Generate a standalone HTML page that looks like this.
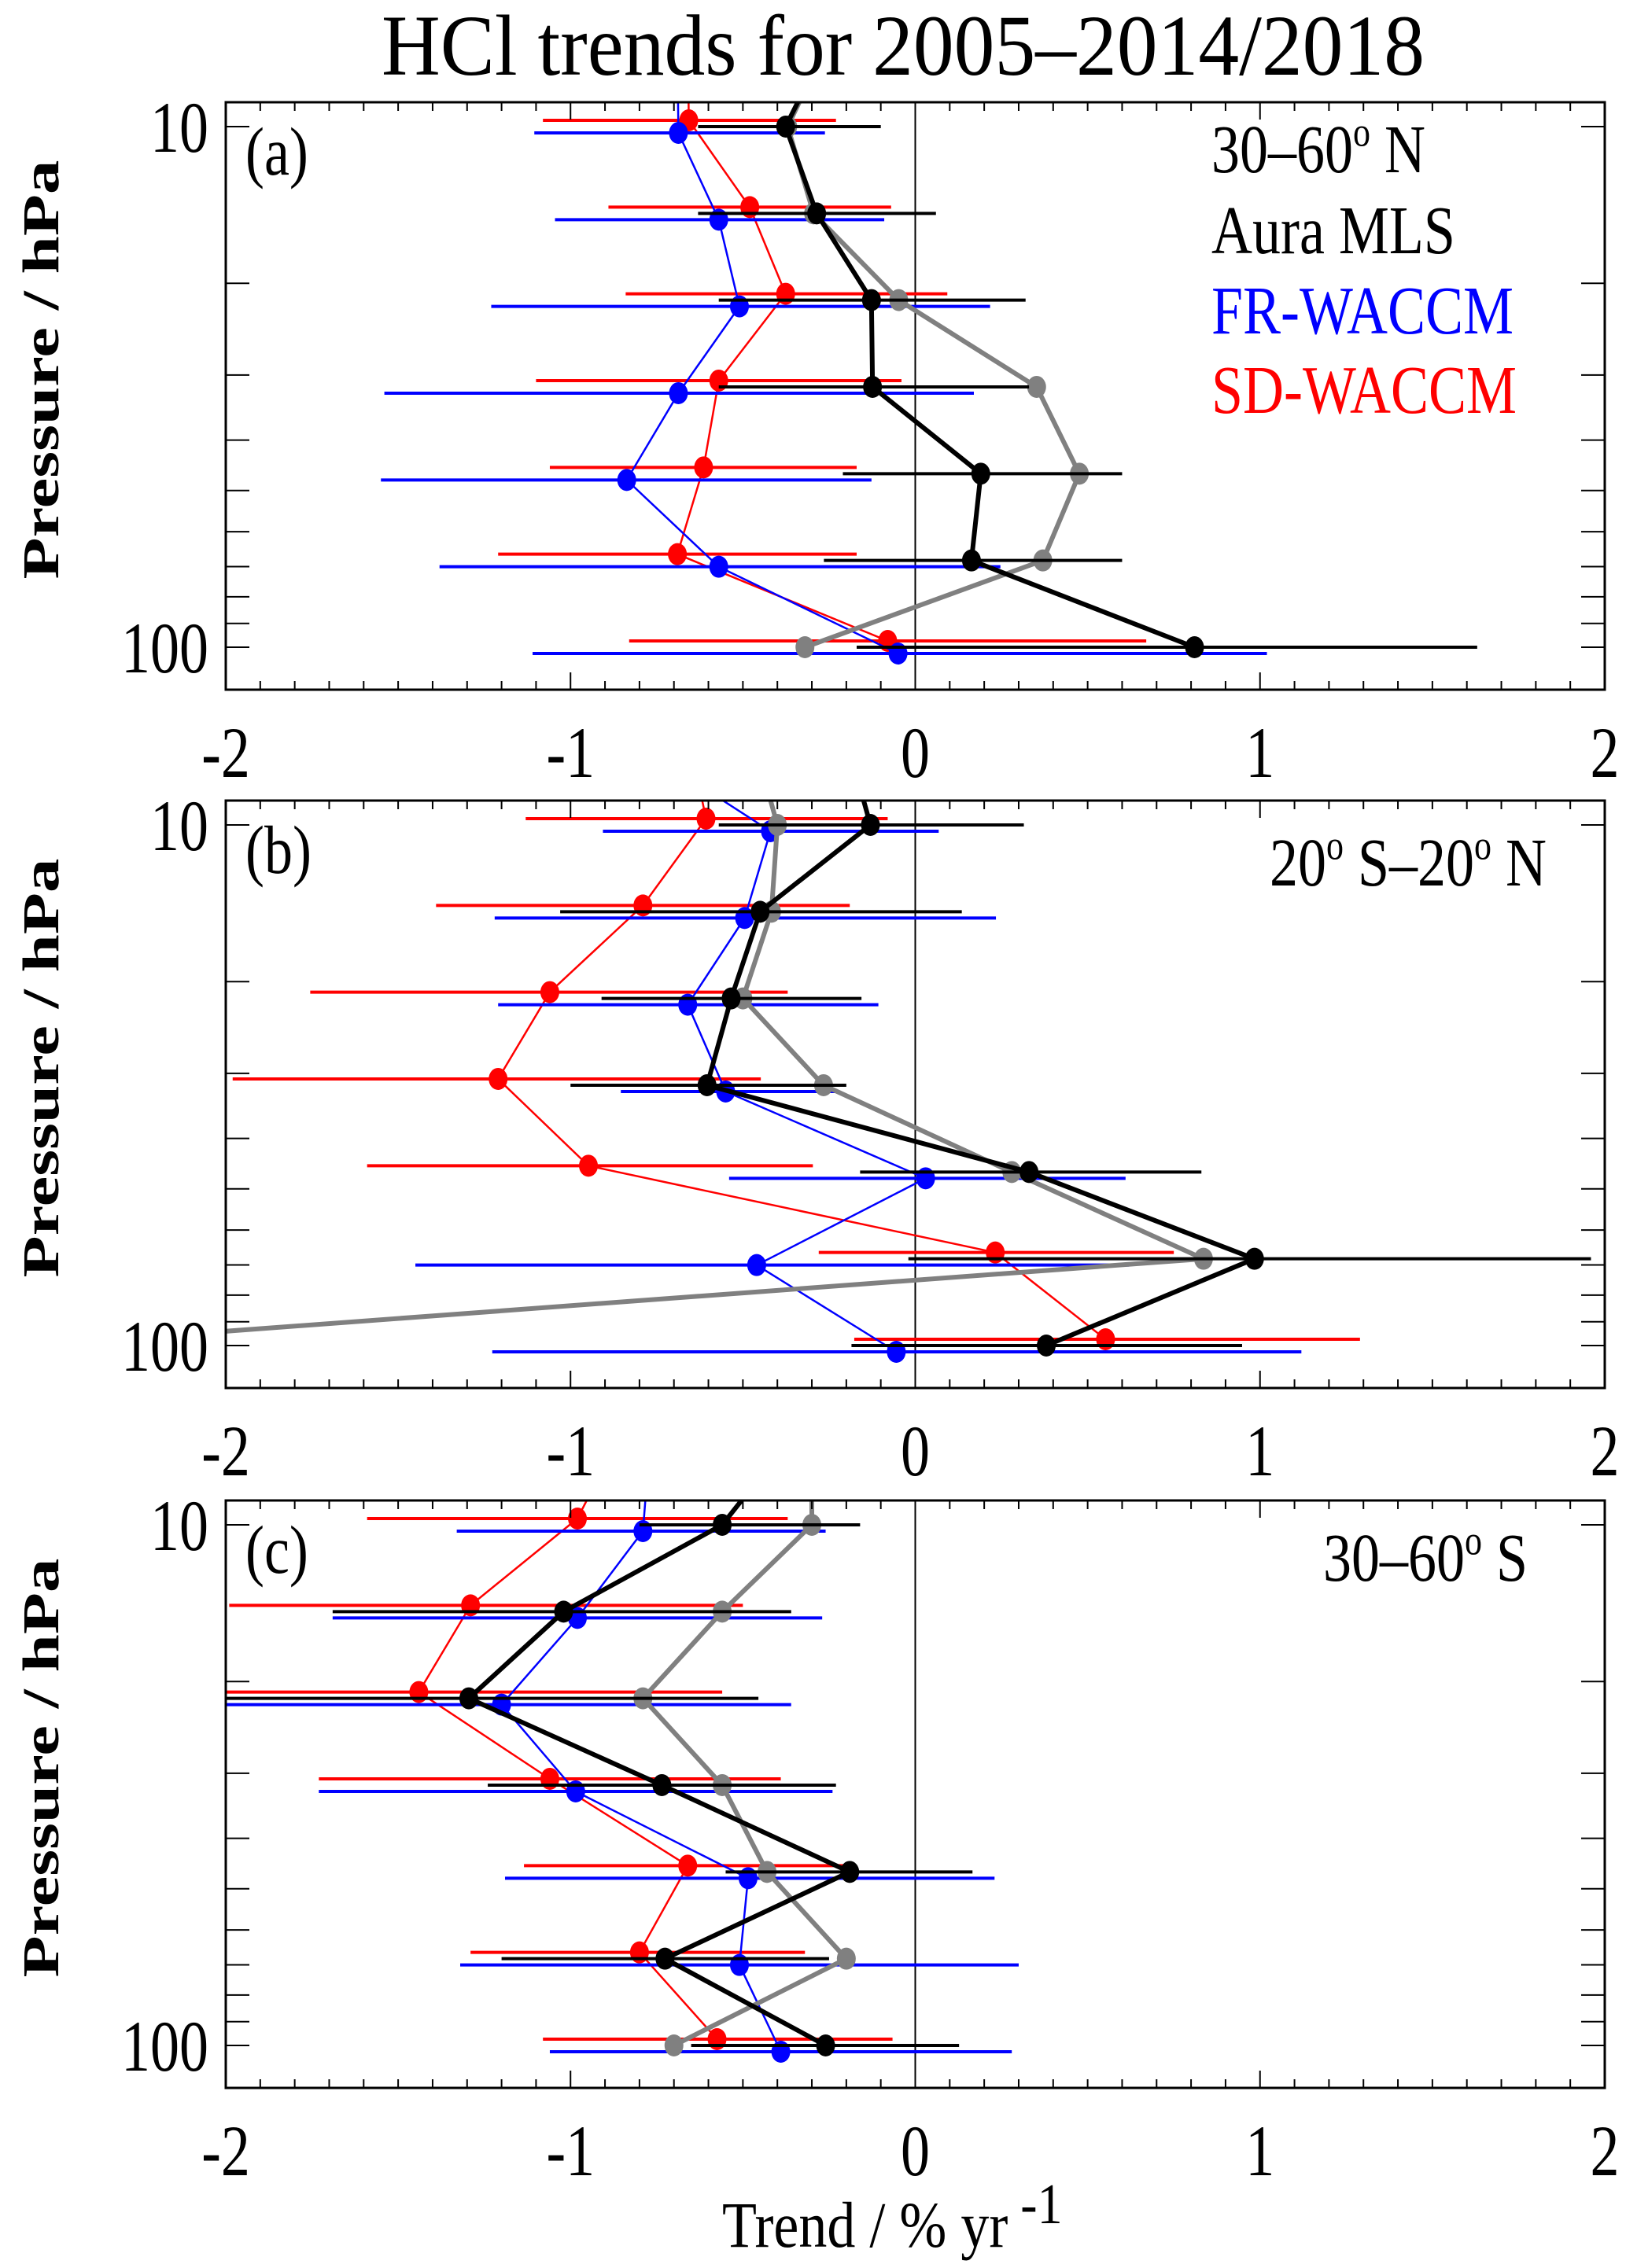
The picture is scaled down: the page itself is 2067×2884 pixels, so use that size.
<!DOCTYPE html>
<html><head><meta charset="utf-8">
<style>
html,body{margin:0;padding:0;background:#fff;}
svg{display:block;font-family:"Liberation Serif",serif;}
</style></head>
<body>
<svg id="chart" width="2067" height="2884" viewBox="0 0 2067 2884" xmlns="http://www.w3.org/2000/svg">
<text x="0" y="0" font-size="92" text-anchor="middle" textLength="1326" lengthAdjust="spacingAndGlyphs" transform="translate(1148,95) scale(1,1.2)">HCl trends for 2005–2014/2018</text>
<text x="0" y="0" font-size="72" transform="translate(918,2857) scale(1,1.15)">Trend / % yr<tspan dy="-26" font-size="64"> -1</tspan></text>
</svg>
<script>
// pressure levels (first level only continues the lines beyond the top border)
const levels = [6.81, 10, 14.68, 21.54, 31.62, 46.42, 68.13, 100];
const xTicks = [-2, -1, 0, 1, 2];
const yLabelVals = [10, 100];

// Panel (a) 30–60° N
const aMls   = [-0.25, -0.376, -0.286, -0.127, -0.124, 0.19, 0.163, 0.81];
const aMlsLo = [null, -0.63, -0.63, -0.57, -0.57, -0.21, -0.265, -0.17];
const aMlsHi = [null, -0.10, 0.06, 0.32, 0.33, 0.6, 0.6, 1.63];
const aGray  = [-0.25, -0.37, -0.295, -0.048, 0.352, 0.476, 0.37, -0.32];
const aFr    = [-0.69, -0.687, -0.57, -0.51, -0.687, -0.837, -0.57, -0.05];
const aFrLo  = [null, -1.105, -1.045, -1.23, -1.54, -1.55, -1.38, -1.11];
const aFrHi  = [null, -0.262, -0.09, 0.217, 0.17, -0.127, 0.247, 1.02];
const aSd    = [-0.66, -0.657, -0.48, -0.376, -0.57, -0.614, -0.69, -0.08];
const aSdLo  = [null, -1.08, -0.89, -0.84, -1.10, -1.06, -1.21, -0.83];
const aSdHi  = [null, -0.23, -0.07, 0.093, -0.04, -0.17, -0.17, 0.67];

// Panel (b) 20° S–20° N
const bMls   = [-0.2, -0.13, -0.45, -0.534, -0.604, 0.33, 0.984, 0.38];
const bMlsLo = [null, -0.57, -1.03, -0.91, -1.0, -0.16, -0.02, -0.185];
const bMlsHi = [null, 0.315, 0.135, -0.156, -0.2, 0.83, 1.96, 0.948];
const bGray  = [-0.47, -0.40, -0.417, -0.5, -0.266, 0.28, 0.836, -2.56];
const bFr    = [-0.81, -0.42, -0.495, -0.66, -0.55, 0.03, -0.46, -0.055];
const bFrLo  = [null, -0.906, -1.22, -1.21, -0.854, -0.54, -1.45, -1.227];
const bFrHi  = [null, 0.068, 0.234, -0.107, -0.22, 0.61, 0.62, 1.12];
const bSd    = [-0.66, -0.607, -0.79, -1.06, -1.21, -0.948, 0.232, 0.552];
const bSdLo  = [null, -1.13, -1.39, -1.755, -1.98, -1.59, -0.28, -0.177];
const bSdHi  = [null, -0.08, -0.19, -0.37, -0.448, -0.297, 0.75, 1.29];

// Panel (c) 30–60° S
const cMls   = [-0.36, -0.56, -1.02, -1.295, -0.735, -0.19, -0.726, -0.26];
const cMlsLo = [null, -0.8, -1.69, -2.0, -1.24, -0.55, -1.2, -0.65];
const cMlsHi = [null, -0.16, -0.36, -0.455, -0.23, 0.166, -0.25, 0.127];
const cGray  = [-0.3, -0.3, -0.56, -0.79, -0.56, -0.43, -0.2, -0.70];
const cFr    = [-0.77, -0.79, -0.98, -1.2, -0.985, -0.485, -0.51, -0.39];
const cFrLo  = [null, -1.33, -1.69, -2.0, -1.73, -1.19, -1.32, -1.06];
const cFrHi  = [null, -0.26, -0.27, -0.36, -0.24, 0.23, 0.3, 0.28];
const cSd    = [-0.85, -0.98, -1.29, -1.44, -1.06, -0.66, -0.80, -0.575];
const cSdLo  = [null, -1.59, -1.99, -2.1, -1.73, -1.135, -1.29, -1.08];
const cSdHi  = [null, -0.37, -0.5, -0.56, -0.39, -0.18, -0.32, -0.066];

const NS = "http://www.w3.org/2000/svg";
const svg = document.getElementById('chart');
const L = 287, R = 2040;
function xs(v){ return L + (v + 2) / 4 * (R - L); }
function mk(tag, attrs, parent){
  const e = document.createElementNS(NS, tag);
  for (const k in attrs) e.setAttribute(k, attrs[k]);
  (parent || svg).appendChild(e);
  return e;
}

const panels = [
  {id:'a', top:130, label:'(a)', series:[
    {n:'sd', v:aSd, lo:aSdLo, hi:aSdHi, c:'#ff0000', w:2.5, off:-8},
    {n:'fr', v:aFr, lo:aFrLo, hi:aFrHi, c:'#0000ff', w:2.5, off:8},
    {n:'mls-alt', v:aGray, c:'#808080', w:6, off:0},
    {n:'mls', v:aMls, lo:aMlsLo, hi:aMlsHi, c:'#000000', w:6, off:0}]},
  {id:'b', top:1018, label:'(b)', series:[
    {n:'sd', v:bSd, lo:bSdLo, hi:bSdHi, c:'#ff0000', w:2.5, off:-8},
    {n:'fr', v:bFr, lo:bFrLo, hi:bFrHi, c:'#0000ff', w:2.5, off:8},
    {n:'mls-alt', v:bGray, c:'#808080', w:6, off:0},
    {n:'mls', v:bMls, lo:bMlsLo, hi:bMlsHi, c:'#000000', w:6, off:0}]},
  {id:'c', top:1908, label:'(c)', series:[
    {n:'sd', v:cSd, lo:cSdLo, hi:cSdHi, c:'#ff0000', w:2.5, off:-8},
    {n:'fr', v:cFr, lo:cFrLo, hi:cFrHi, c:'#0000ff', w:2.5, off:8},
    {n:'mls-alt', v:cGray, c:'#808080', w:6, off:0},
    {n:'mls', v:cMls, lo:cMlsLo, hi:cMlsHi, c:'#000000', w:6, off:0}]}
];

panels.forEach(p => {
  const T = p.top, B = T + 747;
  const ys = pr => T + 31 + (Math.log10(pr) - 1) * 662;
  const g = mk('g', {});
  
  
  const clipId = 'clip' + p.id;
  const cp = mk('clipPath', {id: clipId}, g);
  mk('rect', {x:L, y:T, width:R-L, height:B-T}, cp);
  const z = mk('line', {x1:xs(0), x2:xs(0), y1:T, y2:B, stroke:'#000', 'stroke-width':2}, g);
  
  
  const dg = mk('g', {'clip-path':'url(#' + clipId + ')'}, g);
  p.series.forEach(s => {
    const sg = mk('g', {}, dg);
    
    
    const pts = s.v.map((v, i) => xs(v).toFixed(1) + ',' + (ys(levels[i]) + s.off).toFixed(1)).join(' ');
    const pl = mk('polyline', {points:pts, fill:'none', stroke:s.c, 'stroke-width':s.w, 'stroke-linejoin':'round'}, sg);
    
    
    s.v.forEach((v, i) => {
      if (i === 0) return;
      const y = ys(levels[i]) + s.off;
      if (s.lo && s.lo[i] !== null) {
        const eb = mk('line', {x1:xs(s.lo[i]), x2:xs(s.hi[i]), y1:y, y2:y, stroke:s.c, 'stroke-width':4}, sg);
        
        
      }
      const m = mk('ellipse', {cx:xs(v), cy:y, rx:12, ry:14, fill:s.c}, sg);
      
      
    });
  });
  const fr = mk('rect', {x:L, y:T, width:R-L, height:B-T, fill:'none', stroke:'#000', 'stroke-width':3}, g);
  
  
  for (let k = -20; k <= 20; k++) {
    const v = k / 10, x = xs(v), len = (k % 10 === 0) ? 22 : 11;
    mk('line', {x1:x, x2:x, y1:B, y2:B-len, stroke:'#000', 'stroke-width':2}, g);
    mk('line', {x1:x, x2:x, y1:T, y2:T+len, stroke:'#000', 'stroke-width':2}, g);
  }
  xTicks.forEach(v => {
    const t = mk('text', {x:0, y:0, 'font-size':74, 'text-anchor':'middle', transform:'translate(' + xs(v) + ',' + (B + 111) + ') scale(1,1.25)'}, g);
    
    
    t.textContent = String(v);
  });
  [10,20,30,40,50,60,70,80,90,100].forEach(pr => {
    const y = ys(pr);
    mk('line', {x1:L, x2:L+30, y1:y, y2:y, stroke:'#000', 'stroke-width':2}, g);
    mk('line', {x1:R, x2:R-30, y1:y, y2:y, stroke:'#000', 'stroke-width':2}, g);
  });
  yLabelVals.forEach(pr => {
    const t = mk('text', {x:0, y:0, 'font-size':74, 'text-anchor':'end', transform:'translate(265,' + (ys(pr) + 32) + ') scale(1,1.25)'}, g);
    
    
    t.textContent = String(pr);
  });
  const yt = mk('text', {x:0, y:0, 'font-size':66, 'text-anchor':'middle', 'font-weight':'bold',
    transform:'translate(74,' + (T + 340) + ') rotate(-90)', textLength:533, lengthAdjust:'spacingAndGlyphs'}, g);
  
  
  yt.textContent = 'Pressure / hPa';
  const pl = mk('text', {x:0, y:0, 'font-size':72, transform:'translate(312,' + (T + 92) + ') scale(1,1.2)'}, g);
  
  
  pl.textContent = p.label;
});

function addText(name, x, y, color, html, anchor){
  const t = mk('text', {x:0, y:0, 'font-size':72, fill:color, 'text-anchor':anchor || 'start', transform:'translate(' + x + ',' + y + ') scale(1,1.2)'});
  
  
  t.innerHTML = html;
}
addText('region-label-a', 1540, 219, '#000', '30–60<tspan dy="-28" font-size="44">o</tspan><tspan dy="28"> N</tspan>');
addText('legend-aura-mls', 1540, 322, '#000', 'Aura MLS');
addText('legend-fr-waccm', 1540, 424, '#0000ff', 'FR-WACCM');
addText('legend-sd-waccm', 1540, 525, '#ff0000', 'SD-WACCM');
addText('region-label-b', 1966, 1126, '#000', '20<tspan dy="-28" font-size="44">o</tspan><tspan dy="28"> S–20</tspan><tspan dy="-28" font-size="44">o</tspan><tspan dy="28"> N</tspan>', 'end');
addText('region-label-c', 1942, 2010, '#000', '30–60<tspan dy="-28" font-size="44">o</tspan><tspan dy="28"> S</tspan>', 'end');
</script>
</body></html>
